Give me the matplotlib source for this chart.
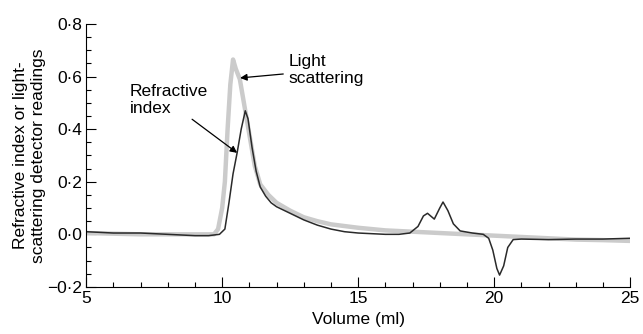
import matplotlib
matplotlib.use("Agg")
import matplotlib.pyplot as plt
from matplotlib.ticker import FuncFormatter, MultipleLocator

plt.rcParams["font.family"] = ["Liberation Sans", "DejaVu Sans"]

# light scattering detector (grey)
ls_vol = [5.0, 7.0, 9.0, 9.7, 9.85, 10.0, 10.1, 10.2, 10.3, 10.4, 10.5, 10.65,
          10.8, 11.0, 11.2, 11.4, 11.7, 12.0, 12.5, 13.0, 13.5, 14.0, 15.0,
          16.0, 17.0, 18.0, 19.0, 20.0, 21.0, 22.0, 23.0, 24.0, 25.0]
ls_val = [0.005, 0.0, 0.0, 0.0, 0.02, 0.1, 0.2, 0.4, 0.57, 0.665, 0.63, 0.59,
          0.5, 0.38, 0.26, 0.19, 0.15, 0.12, 0.09, 0.065, 0.05, 0.038, 0.025,
          0.015, 0.01, 0.005, 0.0, -0.005, -0.01, -0.015, -0.02, -0.022, -0.025]

# refractive index detector (black)
ri_vol = [5.0, 6.0, 7.0, 8.0, 9.0, 9.5, 9.9, 10.1, 10.25, 10.4, 10.55, 10.7,
          10.85, 10.95, 11.1, 11.25, 11.4, 11.6, 11.8, 12.0, 12.5, 13.0, 13.5,
          14.0, 14.5, 15.0, 16.0, 16.5, 16.9, 17.2, 17.4, 17.55, 17.8, 18.0,
          18.12, 18.3, 18.5, 18.75, 19.2, 19.6, 19.8, 19.95, 20.1, 20.2, 20.35,
          20.5, 20.7, 21.0, 22.0, 23.0, 24.0, 25.0]
ri_val = [0.01, 0.005, 0.005, 0.0, -0.005, -0.005, 0.0, 0.02, 0.12, 0.23, 0.31,
          0.40, 0.47, 0.44, 0.33, 0.24, 0.18, 0.145, 0.12, 0.105, 0.08, 0.055,
          0.035, 0.02, 0.01, 0.005, 0.0, 0.0, 0.005, 0.03, 0.07, 0.08, 0.058,
          0.1, 0.123, 0.09, 0.04, 0.013, 0.005, 0.0, -0.015, -0.06, -0.13,
          -0.155, -0.12, -0.05, -0.02, -0.018, -0.02, -0.018, -0.018, -0.015]

fig = plt.figure(figsize=(6.43, 3.34), dpi=100)
ax = fig.add_axes([0.134, 0.141, 0.846, 0.787])

ax.plot(ls_vol, ls_val, color="#cbcbcb", lw=3.2, solid_capstyle="round")
ax.plot(ri_vol, ri_val, color="#2a2a2a", lw=1.1)

ax.set_xlim(5, 25)
ax.set_ylim(-0.2, 0.8)
ax.xaxis.set_major_locator(MultipleLocator(5))
ax.xaxis.set_minor_locator(MultipleLocator(1))
ax.yaxis.set_major_locator(MultipleLocator(0.2))
ax.yaxis.set_minor_locator(MultipleLocator(0.05))


def fmt(v, pos):
    s = f"{v:.1f}".replace(".", "\u00b7")
    if s.startswith("-"):
        s = "\u2212" + s[1:]
    if s == "\u22120\u00b70":
        s = "0\u00b70"
    return s


ax.yaxis.set_major_formatter(FuncFormatter(fmt))
ax.tick_params(which="both", direction="in", labelsize=12.5, width=0.8)
ax.tick_params(which="major", length=7)
ax.tick_params(which="minor", length=3.5)
ax.tick_params(axis="x", pad=3)
ax.tick_params(axis="y", pad=3)
for s in ["top", "right"]:
    ax.spines[s].set_visible(False)

ax.set_xlabel("Volume (ml)", fontsize=12.5, labelpad=4)
ax.set_ylabel("Refractive index or light-\nscattering detector readings",
              fontsize=12.5, labelpad=1, linespacing=1.2)

ax.annotate("Light\nscattering", xy=(10.66, 0.595), xytext=(12.45, 0.625),
            fontsize=12.5, ha="left", va="center", linespacing=1.2,
            arrowprops=dict(arrowstyle="-|>", color="black", lw=0.9,
                            mutation_scale=10, shrinkA=2, shrinkB=0))
ax.annotate("Refractive\nindex", xy=(10.55, 0.31), xytext=(6.6, 0.51),
            fontsize=12.5, ha="left", va="center", linespacing=1.2,
            arrowprops=dict(arrowstyle="-|>", color="black", lw=0.9,
                            mutation_scale=10, shrinkA=0, shrinkB=0,
                            relpos=(0.75, 0.0)))

fig.savefig("out.png", dpi=100)
